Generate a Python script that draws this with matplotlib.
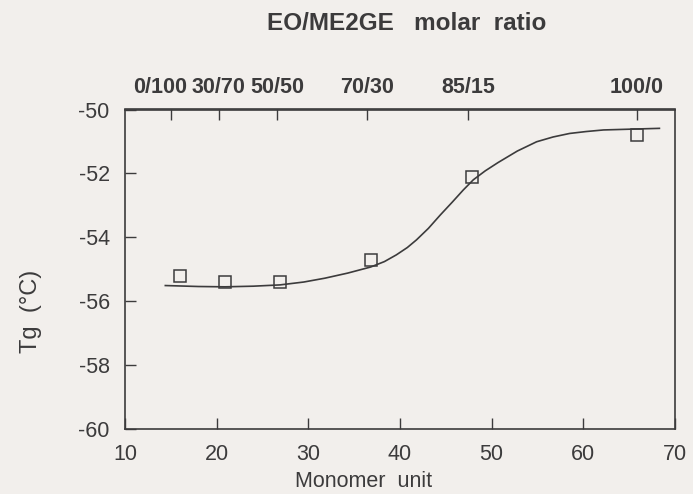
"""Tg versus monomer unit with EO/ME2GE molar ratio on the top axis."""

import matplotlib
matplotlib.use("Agg")
import matplotlib.pyplot as plt
from matplotlib.transforms import ScaledTranslation

# Measured Tg points
monomer_unit = [16.0, 20.9, 26.9, 36.8, 47.9, 65.9]
tg_measured = [-55.21, -55.41, -55.41, -54.71, -52.10, -50.80]

# Fitted curve
curve_x = [14.4, 18.0, 20.9, 24.0, 26.9, 29.5, 31.8, 34.3, 36.8, 38.3, 39.6,
           40.8, 41.8, 43.1, 44.4, 45.7, 46.9, 48.0, 49.3, 50.7, 52.8, 54.9,
           56.7, 58.5, 60.3, 62.2, 65.8, 68.3]
curve_y = [-55.51, -55.54, -55.55, -55.53, -55.49, -55.40, -55.28, -55.12,
           -54.93, -54.76, -54.55, -54.32, -54.08, -53.72, -53.30, -52.90,
           -52.52, -52.20, -51.92, -51.66, -51.30, -51.01, -50.86, -50.75,
           -50.69, -50.64, -50.61, -50.59]

# Top axis: molar ratio labels
ratio_pos = [15.0, 20.2, 26.6, 36.4, 47.45, 65.8]
ratio_labels = ["0/100", "30/70", "50/50", "70/30", "85/15", "100/0"]

INK = "#3c3b3c"
BG = "#f2efec"

plt.rcParams["font.family"] = ["Liberation Sans", "DejaVu Sans"]
plt.rcParams["axes.unicode_minus"] = False

fig = plt.figure(figsize=(6.93, 4.94), dpi=100, facecolor=BG)
ax = fig.add_axes([125 / 693, 1 - 429 / 494, 550 / 693, 319.5 / 494])
ax.set_facecolor(BG)

ax.plot(curve_x, curve_y, color=INK, linewidth=1.2)
ax.plot(monomer_unit, tg_measured, linestyle="none", marker="s",
        markersize=8.5, markerfacecolor="none", markeredgecolor=INK,
        markeredgewidth=1.1)

ax.set_xlim(10, 70)
ax.set_ylim(-60, -50)
ax.set_xticks(range(10, 71, 10))
ax.set_yticks(range(-60, -49, 2))

for spine in ax.spines.values():
    spine.set_color(INK)
    spine.set_linewidth(1.2)

ax.tick_params(direction="in", length=8, width=1.0, color=INK,
               labelcolor=INK, labelsize=15.5, pad=11)
ax.tick_params(axis="y", pad=11)

ax.set_xlabel("Monomer  unit", fontsize=15.5, color=INK)
ax.xaxis.set_label_coords(0.433, -0.13)
ax.set_ylabel("Tg  (\u00b0C)", fontsize=17, color=INK)
ax.yaxis.set_label_coords(-0.15, 0.367)

# Secondary top axis with the molar ratio ticks
top = ax.secondary_xaxis("top")
top.set_xticks(ratio_pos, ratio_labels)
top.spines["top"].set_color(INK)
top.spines["top"].set_linewidth(1.2)
top.tick_params(direction="in", length=8, width=1.0, color=INK,
                labelcolor=INK, labelsize=15.5, pad=8)
top_labels = top.get_xticklabels()
for lbl in top_labels:
    lbl.set_fontweight("bold")
# first label sits a little left of its tick so it clears its neighbour
first = top_labels[0]
first.set_transform(first.get_transform()
                    + ScaledTranslation(-11 / 100, 0, fig.dpi_scale_trans))

fig.text(407 / 693, 1 - 24 / 494, "EO/ME2GE   molar  ratio", ha="center",
         va="center", fontsize=17.5, fontweight="bold", color=INK)

fig.savefig("out.png", dpi=100, facecolor=BG)
